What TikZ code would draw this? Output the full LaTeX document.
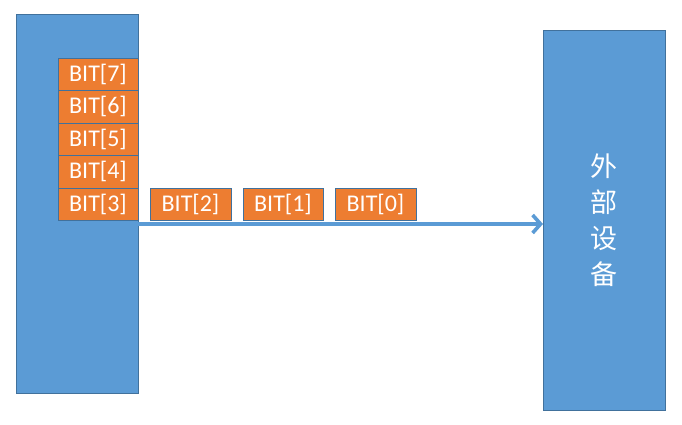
\documentclass[tikz,border=0pt]{standalone}
\usepackage{fontspec}
\setmainfont{Carlito}
\newfontfamily\cjk{Noto Sans CJK SC}
\usetikzlibrary{arrows.meta}
\definecolor{blk}{HTML}{5B9BD5}
\definecolor{bdr}{HTML}{41719C}
\definecolor{org}{HTML}{ED7D31}
\tikzset{
  blockbox/.style={draw=bdr, fill=blk, line width=0.8pt, inner sep=0pt},
  bitbox/.style={draw=bdr, fill=org, line width=0.8pt, text=white, inner sep=0pt,
    minimum width=80pt, minimum height=32.5pt, font=\fontsize{24}{26}\selectfont},
  flow/.style={draw=blk, line width=3.6pt, line cap=round, -{Straight Barb[length=8pt,width=18pt,line width=3.6pt]}}
}
\begin{document}
\begin{tikzpicture}[x=1pt,y=-1pt]
\useasboundingbox (0,0) rectangle (682,425);
\node[blockbox, minimum width=122pt, minimum height=379pt, anchor=north west] (host) at (16,14) {};
\node[blockbox, minimum width=122pt, minimum height=380pt, anchor=north west, text=white,
  font=\cjk\fontsize{27}{36}\selectfont, align=center] (dev) at (543,30) {外\\部\\设\\备};
\node[bitbox] (b7) at (98,74.25) {BIT[7]};
\node[bitbox] (b6) at (98,106.75) {BIT[6]};
\node[bitbox] (b5) at (98,139.25) {BIT[5]};
\node[bitbox] (b4) at (98,171.75) {BIT[4]};
\node[bitbox] (b3) at (98,204.25) {BIT[3]};
\node[bitbox, minimum width=81pt] (b2) at (190.5,204.25) {BIT[2]};
\node[bitbox] (b1) at (283,204.25) {BIT[1]};
\node[bitbox, minimum width=81pt] (b0) at (375.5,204.25) {BIT[0]};
\coordinate (s) at (138,224);
\draw[flow] (s) -- (s -| dev.west);
\end{tikzpicture}
\end{document}
